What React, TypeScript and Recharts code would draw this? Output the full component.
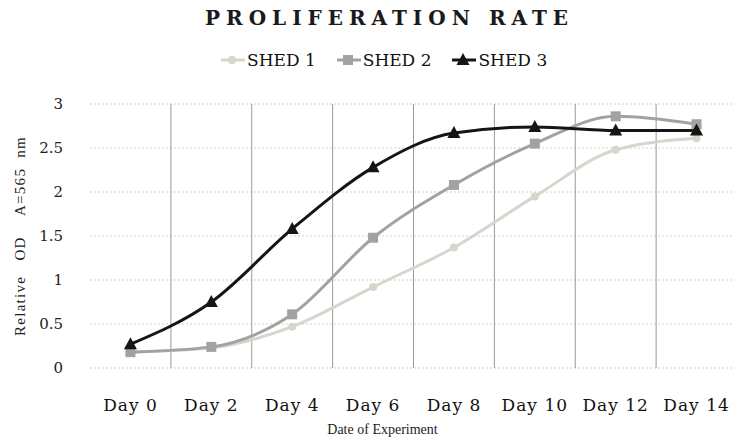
import {
  LineChart,
  Line,
  XAxis,
  YAxis,
  CartesianGrid,
  Legend,
} from "recharts";

const DAYS = ["Day 0", "Day 2", "Day 4", "Day 6", "Day 8", "Day 10", "Day 12", "Day 14"];
const SHED_1 = [0.18, 0.23, 0.47, 0.92, 1.37, 1.95, 2.48, 2.61];
const SHED_2 = [0.18, 0.24, 0.61, 1.48, 2.08, 2.55, 2.86, 2.77];
const SHED_3 = [0.27, 0.75, 1.58, 2.28, 2.67, 2.74, 2.7, 2.7];
const Y_TICKS = [0, 0.5, 1, 1.5, 2, 2.5, 3];

const SERIES = [
  { key: "shed1", name: "SHED 1", color: "#d6d6cc", shape: "circle" },
  { key: "shed2", name: "SHED 2", color: "#a2a2a0", shape: "square" },
  { key: "shed3", name: "SHED 3", color: "#151515", shape: "triangle" },
];

const TIMES = '"Liberation Serif", "DejaVu Serif", serif';
const WIDE = '"DejaVu Serif", "Liberation Serif", serif';

const data = DAYS.map((day, i) => ({
  day,
  shed1: SHED_1[i],
  shed2: SHED_2[i],
  shed3: SHED_3[i],
}));

function Marker({ cx, cy, shape, color }: any) {
  if (cx == null || cy == null) return null;
  if (shape === "circle") return <circle cx={cx} cy={cy} r={4} fill={color} />;
  if (shape === "square")
    return <rect x={cx - 5} y={cy - 5} width={10} height={10} fill={color} />;
  return (
    <polygon
      points={`${cx},${cy - 7} ${cx - 6.5},${cy + 5} ${cx + 6.5},${cy + 5}`}
      fill={color}
    />
  );
}

function LegendIcon({ shape, color }: { shape: string; color: string }) {
  return (
    <svg width={25} height={14} style={{ marginRight: 2 }}>
      <line x1={1} y1={7} x2={25} y2={7} stroke={color} strokeWidth={3} />
      <Marker cx={12} cy={7} shape={shape} color={color} />
    </svg>
  );
}

function renderLegend() {
  return (
    <div
      style={{
        display: "flex",
        justifyContent: "flex-start",
        gap: 20,
        paddingLeft: 220,
        fontFamily: WIDE,
        fontSize: 17,
        lineHeight: "20px",
        height: 20,
        color: "#111",
      }}
    >
      {SERIES.map((s) => (
        <span key={s.key} style={{ display: "inline-flex", alignItems: "center" }}>
          <LegendIcon shape={s.shape} color={s.color} />
          {s.name}
        </span>
      ))}
    </div>
  );
}

// vertical lines sit between the categories, not on them
function bandBoundaries({ offset }: any) {
  const step = offset.width / DAYS.length;
  return DAYS.slice(1).map((_, i) => offset.left + step * (i + 1));
}

function XTitle({ viewBox }: any) {
  return (
    <text
      x={viewBox.x + viewBox.width / 2 - 31}
      y={viewBox.y + viewBox.height - 4}
      textAnchor="middle"
      fontFamily={TIMES}
      fontSize={14}
      fill="#222"
    >
      Date of Experiment
    </text>
  );
}

export default function App() {
  return (
    <div
      style={{
        position: "absolute",
        left: 0,
        top: 0,
        width: 733,
        height: 445,
        overflow: "hidden",
        background: "#fff",
      }}
    >
      <div
        style={{
          position: "absolute",
          left: 205,
          top: 6,
          whiteSpace: "nowrap",
          fontFamily: WIDE,
          fontWeight: "bold",
          fontSize: 20,
          lineHeight: "24px",
          letterSpacing: 6,
          color: "#1a1a1a",
        }}
      >
        PROLIFERATION RATE
      </div>
      <LineChart
        width={737}
        height={445}
        data={data}
        margin={{ top: 84, right: 0, left: 50, bottom: 7 }}
      >
        <CartesianGrid
          horizontal={true}
          vertical={false}
          stroke="#cfcfcf"
          strokeDasharray="2 2"
        />
        <CartesianGrid
          horizontal={false}
          vertical={true}
          stroke="#9a9a9a"
          verticalCoordinatesGenerator={bandBoundaries}
        />
        <XAxis
          dataKey="day"
          scale="band"
          axisLine={false}
          tickLine={false}
          tickSize={0}
          tickMargin={31}
          height={70}
          interval={0}
          tick={{ fontFamily: WIDE, fontSize: 17, fill: "#111", letterSpacing: 1 }}
          label={{ content: XTitle }}
        />
        <YAxis
          domain={[0, 3]}
          ticks={Y_TICKS}
          axisLine={false}
          tickLine={false}
          tickSize={0}
          tickMargin={27}
          width={40}
          tick={{ fontFamily: WIDE, fontSize: 15, fill: "#222" }}
          label={{
            value: "Relative\u00a0\u00a0\u00a0OD\u00a0\u00a0\u00a0\u00a0A=565\u00a0\u00a0nm",
            angle: -90,
            position: "insideLeft",
            offset: -30,
            style: {
              textAnchor: "middle",
              fontFamily: TIMES,
              fontSize: 15,
              letterSpacing: 1.3,
              fill: "#222",
            },
          }}
        />
        <Legend
          verticalAlign="top"
          content={renderLegend}
          wrapperStyle={{ top: 50, left: 0, width: 737 }}
        />
        {SERIES.map((s) => (
          <Line
            key={s.key}
            type="monotone"
            dataKey={s.key}
            name={s.name}
            stroke={s.color}
            strokeWidth={3}
            dot={(p: any) => (
              <Marker key={`${s.key}-${p.index}`} cx={p.cx} cy={p.cy} shape={s.shape} color={s.color} />
            )}
            activeDot={false}
            isAnimationActive={false}
          />
        ))}
      </LineChart>
    </div>
  );
}
